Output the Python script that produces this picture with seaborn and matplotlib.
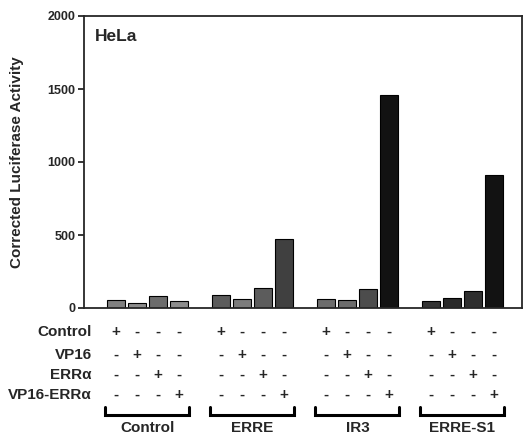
import numpy as np
import pandas as pd
import matplotlib
matplotlib.use("Agg")
import matplotlib.pyplot as plt
import seaborn as sns

# values
reporters = ["Control", "ERRE", "IR3", "ERRE-S1"]
treatments = ["Control", "VP16", "ERRα", "VP16-ERRα"]
control_vals = [55, 36, 82, 50]
erre_vals = [87, 59, 134, 470]
ir3_vals = [63, 55, 127, 1460]
erre_s1_vals = [50, 66, 118, 914]
y_ticks = [0, 500, 1000, 1500, 2000]

all_vals = [control_vals, erre_vals, ir3_vals, erre_s1_vals]
rows = []
for g, vals in enumerate(all_vals):
    for j, v in enumerate(vals):
        rows.append({"pos": g * 5 + j, "reporter": reporters[g],
                     "treatment": treatments[j], "activity": v})
df = pd.DataFrame(rows)

# shading of the scanned bars, one grey per bar
shades = ["#808080", "#8c8c8c", "#6c6c6c", "#8c8c8c",
          "#5c5c5c", "#7c7c7c", "#5c5c5c", "#404040",
          "#6c6c6c", "#6c6c6c", "#4c4c4c", "#121212",
          "#333333", "#2a2a2a", "#2e2e2e", "#121212"]
pal = dict(zip(df["pos"], shades))

sns.set_style("ticks")
plt.rcParams["font.family"] = ["Liberation Sans", "DejaVu Sans"]
plt.rcParams["font.weight"] = "bold"

fig = plt.figure(figsize=(5.28, 4.34), dpi=100)
ax = fig.add_axes([84 / 528, 1 - 308 / 434, 438 / 528, 292 / 434])

sns.barplot(data=df, x="pos", y="activity", hue="pos", palette=pal,
            native_scale=True, dodge=False, width=0.86, legend=False,
            edgecolor="black", linewidth=0.8, saturation=1, ax=ax)

ax.set_xlim(-1.52, 19.34)
ax.set_ylim(0, 2000)
ax.set_yticks(y_ticks)
ax.set_yticklabels([str(t) for t in y_ticks], fontsize=9, fontweight="bold")
ax.set_xticks([])
ax.set_xlabel("")
ax.set_ylabel("Corrected Luciferase Activity", fontsize=11, fontweight="bold")
ax.yaxis.set_label_coords(-60 / 438, 0.5)
ax.tick_params(axis="y", direction="out", length=4, width=1.3, pad=2)
for s in ax.spines.values():
    s.set_linewidth(1.3)

ax.text(0.025, 0.93, "HeLa", transform=ax.transAxes, fontsize=12.5,
        fontweight="bold", va="center", ha="left")

# +/- table below the axis
tr = ax.get_xaxis_transform()
row_y = [-0.082, -0.161, -0.229, -0.298]
for i, name in enumerate(treatments):
    ax.text(-1.16, row_y[i], name, transform=tr, ha="right", va="center",
            fontsize=11, fontweight="bold", clip_on=False)
    for g in range(len(reporters)):
        for j in range(len(treatments)):
            mark = "+" if i == j else "-"
            ax.text(g * 5 + j, row_y[i], mark, transform=tr, ha="center",
                    va="center", fontsize=11, fontweight="bold", clip_on=False)

for g, name in enumerate(reporters):
    x0, x1 = g * 5 - 0.5, g * 5 + 3.5
    ax.plot([x0, x0, x1, x1], [-0.34, -0.366, -0.366, -0.34], transform=tr,
            color="black", lw=2.2, clip_on=False, solid_joinstyle="miter")
    ax.text((x0 + x1) / 2, -0.41, name, transform=tr, ha="center", va="center",
            fontsize=11, fontweight="bold", clip_on=False)

fig.savefig("out.png", dpi=100)
